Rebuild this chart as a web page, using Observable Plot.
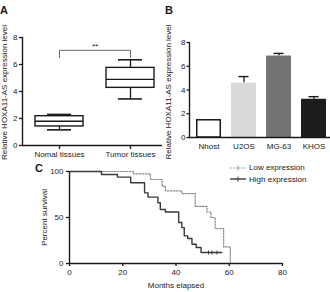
<!DOCTYPE html>
<html>
<head>
<meta charset="utf-8">
<script src="https://cdn.jsdelivr.net/npm/d3@7"></script>
<script src="https://cdn.jsdelivr.net/npm/@observablehq/plot@0.6"></script>
<style>
  body { margin: 0; background: #fff; }
  #fig { position: relative; width: 330px; height: 292px; overflow: hidden; background: #fff;
         font-family: "Liberation Sans", Arial, sans-serif; color: #1a1a1a; }
  #fig .panel { position: absolute; }
  #fig svg { overflow: visible; background: transparent !important; }
  .tag { position: absolute; font-weight: bold; font-size: 11px; line-height: 1; }
  .legend { position: absolute; font-size: 8px; line-height: 11.5px; }
  .legend div { display: flex; align-items: center; white-space: nowrap; }
  .legend svg { margin-right: 3px; }
</style>
</head>
<body>
<div id="fig"></div>
<script>
// ---- Panel A: HOXA11-AS in tissues (box summaries) ----
const groups = ["Nomal tissues", "Tumor tissues"];
const boxMin = [1.16, 3.45];
const boxQ1 = [1.41, 4.27];
const boxMedian = [1.8, 4.9];
const boxQ3 = [2.17, 5.75];
const boxMax = [2.3, 6.35];
const significance = "**";

// ---- Panel B: HOXA11-AS in cell lines ----
const cellLines = ["Nhost", "U2OS", "MG-63", "KHOS"];
const cellMeans = [1.45, 4.58, 6.86, 3.22];
const cellErrors = [0.05, 0.55, 0.22, 0.22];
const cellFills = ["#ffffff", "#d9d9d9", "#747474", "#1c1c1c"];
const expressionTicks = [0, 2, 4, 6, 8];

// ---- Panel C: Kaplan–Meier survival ----
const lowMonths   = [0, 24, 30.4, 34.8, 36, 42.2, 47.2, 51.6, 53.1, 54.7, 57.9, 60.4, 60.4];
const lowSurvival = [100, 97.5, 91.3, 84, 79, 76, 62, 56, 50, 38, 18, 0, 0];
const highMonths   = [0, 12, 18, 23, 28.2, 29.5, 33.2, 34.1, 36, 41, 42.2, 43.1, 44.4, 46, 47.6, 49.4, 57.2];
const highSurvival = [100, 96.8, 93.9, 87.7, 76.8, 72.1, 66, 58.7, 55.9, 44.6, 39, 30, 27.2, 21, 17.4, 12, 12];
const highCensored = [52.2, 53.5, 55.4];
const monthTicks = [0, 20, 40, 60, 80];
const survivalTicks = [0, 50, 100];

const font = {fontFamily: "'Liberation Sans', Arial, sans-serif", fontSize: "8px", color: "#1a1a1a", background: "transparent", overflow: "visible"};
const ink = "#1a1a1a";
const fig = document.getElementById("fig");

function place(node, left, top) {
  const wrap = document.createElement("div");
  wrap.className = "panel";
  wrap.style.left = left + "px";
  wrap.style.top = top + "px";
  wrap.appendChild(node);
  fig.appendChild(wrap);
}
function tag(text, left, top) {
  const d = document.createElement("div");
  d.className = "tag";
  d.textContent = text;
  d.style.left = left + "px";
  d.style.top = top + "px";
  fig.appendChild(d);
}

const yTitle = "Relative HOXA11-AS expression level";

// Panel A
const boxes = groups.map((g, i) => ({g, min: boxMin[i], q1: boxQ1[i], med: boxMedian[i], q3: boxQ3[i], max: boxMax[i]}));
const bracket = [
  {g: groups[0], y: 6.5}, {g: groups[0], y: 7.05},
  {g: groups[1], y: 7.05}, {g: groups[1], y: 6.5}
];
const plotA = Plot.plot({
  width: 165, height: 165,
  marginLeft: 22, marginRight: 3, marginTop: 37, marginBottom: 20,
  style: font,
  x: {type: "band", domain: groups, range: [23, 165], paddingInner: 0.33, paddingOuter: 0.165, label: null},
  y: {domain: [0, 8], label: null},
  marks: [
    Plot.axisY(expressionTicks, {tickSize: 3, tickPadding: 2, strokeWidth: 1.3, label: null}),
    Plot.axisX({tickSize: 4, tickPadding: 2, strokeWidth: 1.3, label: null}),
    Plot.frame({anchor: "left", stroke: ink, strokeWidth: 1.4}),
    Plot.ruleY([0], {stroke: ink, strokeWidth: 1.4}),
    Plot.ruleX(boxes, {x: "g", y1: "q3", y2: "max", stroke: ink, strokeWidth: 1.3}),
    Plot.ruleX(boxes, {x: "g", y1: "min", y2: "q1", stroke: ink, strokeWidth: 1.3}),
    Plot.tickY(boxes, {x: "g", y: "max", stroke: ink, strokeWidth: 1.6, insetLeft: 12, insetRight: 12}),
    Plot.tickY(boxes, {x: "g", y: "min", stroke: ink, strokeWidth: 1.6, insetLeft: 12, insetRight: 12}),
    Plot.barY(boxes, {x: "g", y1: "q1", y2: "q3", fill: "white", stroke: ink, strokeWidth: 1.4}),
    Plot.tickY(boxes, {x: "g", y: "med", stroke: ink, strokeWidth: 1.4}),
    Plot.line(bracket, {x: "g", y: "y", stroke: "#555", strokeWidth: 0.9}),
    Plot.text([significance], {x: () => groups[0], y: () => 7.05, dx: 35.5, dy: -4, fontSize: 8, fill: ink}),
    Plot.text([yTitle], {frameAnchor: "left", dx: -18, dy: 1, rotate: -90, textAnchor: "middle", lineAnchor: "middle", fontSize: 8, fill: ink})
  ]
});
place(plotA, 0, 0);

// Panel B
const cells = cellLines.map((name, i) => ({name, mean: cellMeans[i], top: cellMeans[i] + cellErrors[i], fill: cellFills[i]}));
const plotB = Plot.plot({
  width: 165, height: 165,
  marginLeft: 24, marginRight: 0, marginTop: 42, marginBottom: 28,
  style: font,
  x: {type: "band", domain: cellLines, range: [24.5, 166.5], paddingInner: 0.29, paddingOuter: 0.145, label: null},
  y: {domain: [0, 8], label: null},
  color: {type: "identity"},
  marks: [
    Plot.axisY(expressionTicks, {tickSize: 2.5, tickPadding: 1.5, strokeWidth: 1.3, label: null}),
    Plot.axisX({tickSize: 0, tickPadding: 5.5, label: null}),
    Plot.frame({anchor: "left", stroke: ink, strokeWidth: 1.4}),
    Plot.ruleX(cells, {x: "name", y1: "mean", y2: "top", stroke: ink, strokeWidth: 1.3}),
    Plot.tickY(cells, {x: "name", y: "top", stroke: ink, strokeWidth: 1.4, insetLeft: 7.5, insetRight: 7.5}),
    Plot.barY(cells, {x: "name", y: "mean", fill: "fill"}),
    Plot.barY(cells.slice(0, 1), {x: "name", y: "mean", fill: "fill", stroke: ink, strokeWidth: 1.5, insetLeft: 0.75, insetRight: 0.75}),
    Plot.ruleY([0], {stroke: ink, strokeWidth: 1.4}),
    Plot.text([yTitle], {frameAnchor: "left", dx: -21, dy: 2, rotate: -90, textAnchor: "middle", lineAnchor: "middle", fontSize: 8, fill: ink})
  ]
});
place(plotB, 165, 0);

// Panel C
const low = lowMonths.map((m, i) => ({month: m, survival: lowSurvival[i]}));
const high = highMonths.map((m, i) => ({month: m, survival: highSurvival[i]}));
const censorLevel = highSurvival[highSurvival.length - 1];
const tickSymbol = {draw(ctx, size) { const h = Math.sqrt(size) / 2; ctx.moveTo(0, -h); ctx.lineTo(0, h); }};
const plotC = Plot.plot({
  width: 330, height: 142,
  marginLeft: 69, marginRight: 48, marginTop: 21, marginBottom: 29,
  style: font,
  x: {domain: [0, 80], label: null},
  y: {domain: [0, 100], label: null},
  marks: [
    Plot.axisY(survivalTicks, {tickSize: 3, tickPadding: 3, strokeWidth: 1.3, label: null}),
    Plot.axisX(monthTicks, {tickSize: 3, tickPadding: 3, strokeWidth: 1.3, label: null}),
    Plot.line(low, {x: "month", y: "survival", curve: "step-after", stroke: "#8c8c8c", strokeWidth: 1.2, strokeDasharray: "1.6,1.4"}),
    Plot.line(high, {x: "month", y: "survival", curve: "step-after", stroke: "#3a3a3a", strokeWidth: 1.4}),
    Plot.dot(highCensored, {x: d => d, y: () => censorLevel, symbol: tickSymbol, r: 2.2, stroke: "#3a3a3a", strokeWidth: 1, fill: "none"}),
    Plot.ruleX([0], {stroke: ink, strokeWidth: 1.4}),
    Plot.ruleY([0], {stroke: ink, strokeWidth: 1.4}),
    Plot.text(["Percent survival"], {frameAnchor: "left", dx: -25.5, rotate: -90, textAnchor: "middle", lineAnchor: "middle", fontSize: 8, fill: ink}),
    Plot.text(["Months elapsed"], {frameAnchor: "bottom", dy: 22, lineAnchor: "middle", fontSize: 8, fill: ink})
  ]
});
place(plotC, 0, 150);

// Legend for panel C
const legend = document.createElement("div");
legend.className = "legend";
legend.style.left = "230px";
legend.style.top = "162px";
[["Low expression", "#8c8c8c", "1.6,1.4"], ["High expression", "#3a3a3a", null]].forEach(([label, color, dash]) => {
  const row = document.createElement("div");
  row.innerHTML = `<svg width="16" height="8"><line x1="0" x2="16" y1="4" y2="4" stroke="${color}" stroke-width="${dash ? 1.2 : 1.4}" ${dash ? `stroke-dasharray="${dash}"` : ""}/><line x1="8" x2="8" y1="1.5" y2="6.5" stroke="${color}" stroke-width="1"/></svg><span>${label}</span>`;
  legend.appendChild(row);
});
fig.appendChild(legend);

tag("A", 0, 5);
tag("B", 165, 5);
tag("C", 35, 163);
</script>
</body>
</html>
